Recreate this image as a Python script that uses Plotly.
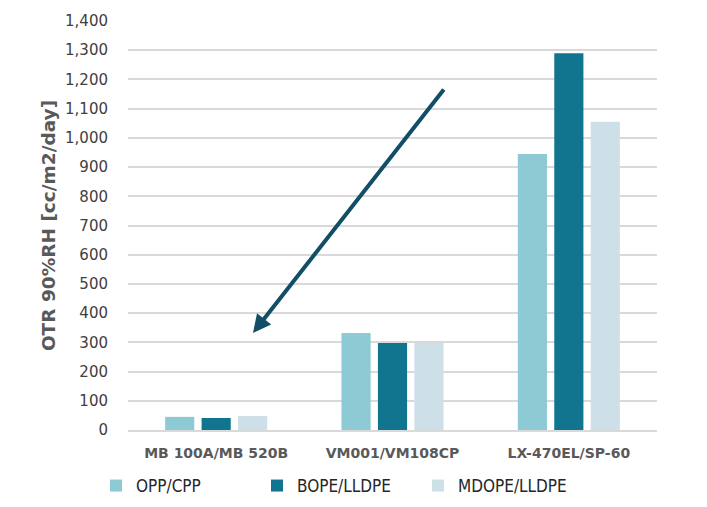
import plotly.graph_objects as go

categories = ["MB 100A/MB 520B", "VM001/VM108CP", "LX-470EL/SP-60"]
opp_cpp = [45, 332, 945]
bope_lldpe = [41, 298, 1290]
mdope_lldpe = [48, 299, 1055]
y_ticks = list(range(0, 1401, 100))

colors = {"OPP/CPP": "#8ECAD4", "BOPE/LLDPE": "#117590", "MDOPE/LLDPE": "#CDE0E7"}

fig = go.Figure()
for name, vals in [("OPP/CPP", opp_cpp), ("BOPE/LLDPE", bope_lldpe), ("MDOPE/LLDPE", mdope_lldpe)]:
    fig.add_trace(go.Bar(x=categories, y=vals, name=name, marker_color=colors[name],
                         marker_line_width=0))

fig.update_layout(
    width=707, height=507,
    margin=dict(l=128, r=50, t=21, b=77, autoexpand=False),
    paper_bgcolor="white", plot_bgcolor="white",
    barmode="group", bargap=0.38, bargroupgap=0.2,
    font=dict(family="DejaVu Sans", color="#404040"),
    showlegend=True,
    legend=dict(orientation="h", x=(96 - 128) / 529, xanchor="left", y=(430 - 486) / 409, yanchor="middle",
                font=dict(size=17, family="DejaVu Sans Condensed, DejaVu Sans", color="#262626"),
                itemwidth=30, traceorder="normal", entrywidth=116, entrywidthmode="pixels"),
    xaxis=dict(tickfont=dict(size=14, family="DejaVu Sans", color="#595959", weight="bold"),
               showline=True, linecolor="#D9D9D9", linewidth=2, ticks="outside", ticklen=9,
               tickcolor="rgba(0,0,0,0)"),
    yaxis=dict(range=[0, 1400], tickvals=y_ticks, tickformat=",", tickfont=dict(size=15, color="#404040"),
               gridcolor="#D9D9D9", gridwidth=1.5, zeroline=False, ticks="outside", ticklen=16,
               tickcolor="rgba(0,0,0,0)",
               title=dict(text="<b>OTR 90%RH [cc/m2/day]</b>", font=dict(size=18.5, color="#595959"),
                          standoff=4)),
)

fig.add_annotation(
    x=(253 - 128) / 529, y=(430 - 333) / 409, xref="paper", yref="paper",
    ax=445 - 253, ay=88 - 333, axref="pixel", ayref="pixel",
    showarrow=True, arrowhead=2, arrowsize=0.9, arrowwidth=4, arrowcolor="#124E66", text="",
)

fig.write_html("out.html")
